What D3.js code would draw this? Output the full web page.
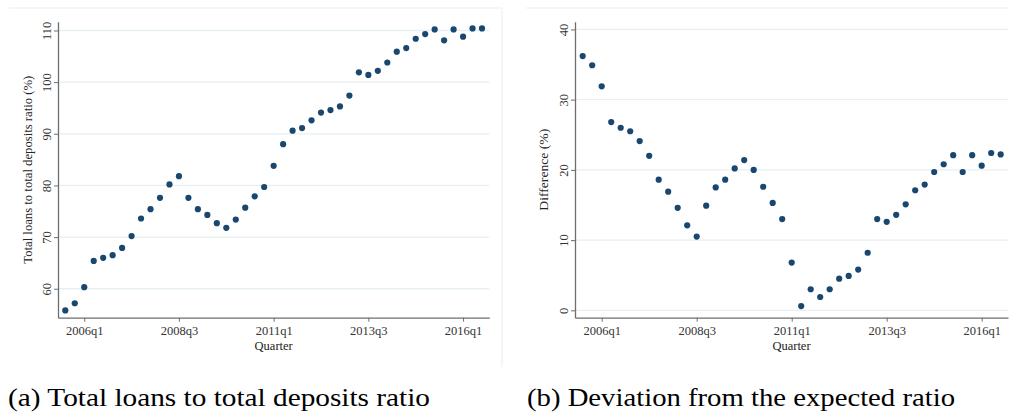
<!DOCTYPE html>
<html>
<head>
<meta charset="utf-8">
<script src="https://cdn.jsdelivr.net/npm/d3@7"></script>
<style>
  body { margin: 0; background: #fff; }
  svg text { font-family: "Liberation Serif", "Times New Roman", Times, serif !important; }
</style>
</head>
<body>
<svg id="chart" width="1009" height="416"></svg>
<script>
const quarters = [
  "2005q3","2005q4","2006q1","2006q2","2006q3","2006q4","2007q1","2007q2","2007q3","2007q4",
  "2008q1","2008q2","2008q3","2008q4","2009q1","2009q2","2009q3","2009q4","2010q1","2010q2",
  "2010q3","2010q4","2011q1","2011q2","2011q3","2011q4","2012q1","2012q2","2012q3","2012q4",
  "2013q1","2013q2","2013q3","2013q4","2014q1","2014q2","2014q3","2014q4","2015q1","2015q2",
  "2015q3","2015q4","2016q1","2016q2","2016q3"
];
const loanRatio = [
  55.8, 57.2, 60.3, 65.4, 66.0, 66.5, 67.9, 70.2, 73.6, 75.4,
  77.6, 80.2, 81.8, 77.6, 75.4, 74.3, 72.7, 71.8, 73.4, 75.7,
  77.9, 79.7, 83.8, 88.0, 90.6, 91.1, 92.6, 94.1, 94.6, 95.3,
  97.4, 101.9, 101.4, 102.2, 103.8, 105.9, 106.6, 108.4, 109.3, 110.2,
  108.1, 110.2, 108.8, 110.4, 110.4
];
const deviation = [
  36.2, 34.9, 31.9, 26.8, 26.0, 25.5, 24.1, 22.0, 18.6, 16.9,
  14.6, 12.1, 10.5, 14.9, 17.5, 18.6, 20.2, 21.4, 20.0, 17.6,
  15.3, 13.0, 6.8, 0.6, 3.0, 1.9, 3.0, 4.5, 4.9, 5.8,
  8.2, 13.0, 12.6, 13.6, 15.1, 17.1, 17.9, 19.7, 20.8, 22.1,
  19.7, 22.1, 20.6, 22.4, 22.2
];
const xTickLabels = ["2006q1", "2008q3", "2011q1", "2013q3", "2016q1"];
const loanTicks = [60, 70, 80, 90, 100, 110];
const devTicks = [0, 10, 20, 30, 40];

const svg = d3.select("#chart");
const frameColor = "#e8eff0";
const gridColor = "#e6eff1";
const axisColor = "#6e6e6e";
const dotColor = "#1a476f";

// light graph-region frame lines
svg.append("line").attr("x1", 9).attr("x2", 502).attr("y1", 8).attr("y2", 8)
  .attr("stroke", frameColor).attr("stroke-width", 1);
svg.append("line").attr("x1", 502).attr("x2", 502).attr("y1", 8).attr("y2", 367)
  .attr("stroke", frameColor).attr("stroke-width", 1);
svg.append("line").attr("x1", 526).attr("x2", 1009).attr("y1", 8).attr("y2", 8)
  .attr("stroke", frameColor).attr("stroke-width", 1);

function panel(opts) {
  const x = d3.scaleLinear().domain(opts.xDomain).range(opts.xRange);
  const y = d3.scaleLinear().domain(opts.yDomain).range([317.7, 21.7]);
  const g = svg.append("g");

  // gridlines
  g.selectAll(".grid").data(opts.yTicks).enter().append("line")
    .attr("x1", opts.xRange[0]).attr("x2", opts.xRange[1])
    .attr("y1", d => y(d)).attr("y2", d => y(d))
    .attr("stroke", gridColor).attr("stroke-width", 1.3);

  // y axis
  const ya = g.append("g").attr("transform", `translate(${opts.xRange[0]},0)`)
    .call(d3.axisLeft(y).tickValues(opts.yTicks).tickSize(4).tickSizeOuter(0));
  ya.select(".domain").attr("stroke", axisColor).attr("stroke-width", 1.3);
  ya.selectAll(".tick line").attr("stroke", axisColor);
  ya.selectAll(".tick text")
    .attr("transform", "rotate(-90)")
    .attr("x", 0).attr("y", -11)
    .attr("text-anchor", "middle")
    .attr("font-size", 12.5).attr("fill", "#333");

  // x axis
  const xa = g.append("g").attr("transform", "translate(0,317.7)")
    .call(d3.axisBottom(x)
      .tickValues(xTickLabels.map(q => quarters.indexOf(q)))
      .tickFormat(i => quarters[i])
      .tickSize(4).tickSizeOuter(0));
  xa.select(".domain").attr("stroke", axisColor).attr("stroke-width", 1.3);
  xa.selectAll(".tick line").attr("stroke", axisColor);
  xa.selectAll(".tick text").attr("y", 8)
    .attr("font-size", 12.5).attr("fill", "#333");

  // axis titles
  g.append("text")
    .attr("x", (opts.xRange[0] + opts.xRange[1]) / 2).attr("y", 349.5)
    .attr("text-anchor", "middle").attr("font-size", 12.5).attr("fill", "#222")
    .text("Quarter");
  g.append("text")
    .attr("transform", `translate(${opts.titleX},${(317.7 + 21.7) / 2}) rotate(-90)`)
    .attr("text-anchor", "middle").attr("font-size", 12.5).attr("fill", "#222")
    .attr("textLength", opts.titleLen).attr("lengthAdjust", "spacingAndGlyphs")
    .text(opts.yTitle);

  // points
  g.selectAll(".dot").data(opts.values).enter().append("circle")
    .attr("cx", (d, i) => x(i)).attr("cy", d => y(d))
    .attr("r", 3.1).attr("fill", dotColor);

  // caption
  svg.append("text")
    .attr("x", opts.captionX).attr("y", 406)
    .attr("font-size", 25).attr("fill", "#000")
    .attr("textLength", opts.captionLen).attr("lengthAdjust", "spacingAndGlyphs")
    .text(opts.caption);
}

panel({
  xDomain: [-0.77, 44.77], xRange: [58, 489.3],
  yDomain: [54.4, 111.7], yTicks: loanTicks, values: loanRatio,
  yTitle: "Total loans to total deposits ratio (%)", titleX: 32, titleLen: 188,
  caption: "(a) Total loans to total deposits ratio", captionX: 8, captionLen: 422
});
panel({
  xDomain: [-0.81, 44.77], xRange: [575, 1008],
  yDomain: [-1.05, 41.1], yTicks: devTicks, values: deviation,
  yTitle: "Difference (%)", titleX: 548, titleLen: 82,
  caption: "(b) Deviation from the expected ratio", captionX: 527, captionLen: 428
});
</script>
</body>
</html>
